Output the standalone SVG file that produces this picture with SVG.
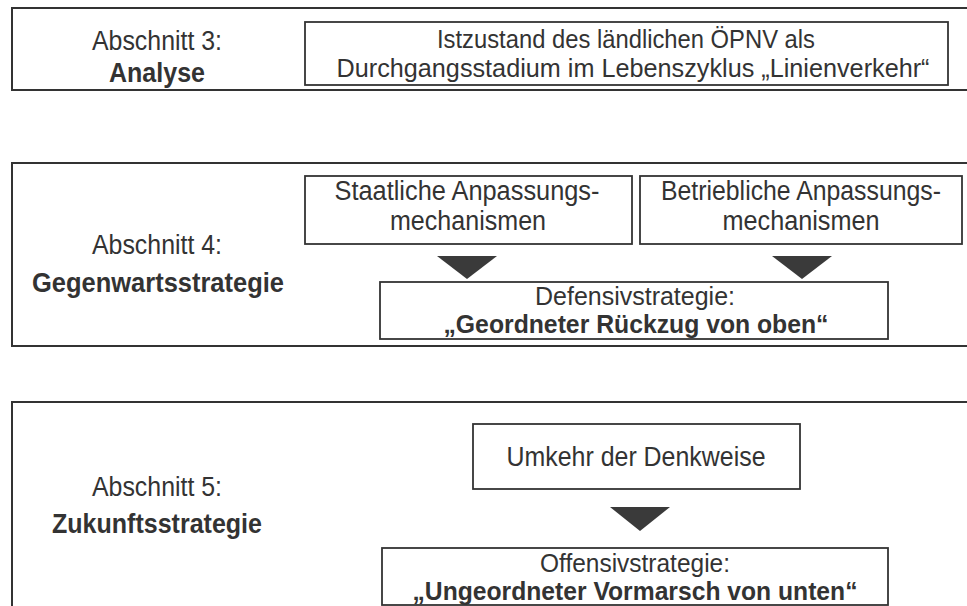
<svg xmlns="http://www.w3.org/2000/svg" width="967" height="606" viewBox="0 0 967 606">
<style>
  .frame { fill: none; stroke: #333; stroke-width: 2; }
  .box { fill: #fff; stroke: #333; stroke-width: 1.8; }
  .t { font-family: "Liberation Sans", Arial, sans-serif; font-size: 27px; fill: #333; text-anchor: middle; }
  .m { font-size: 26px; }
  .s { font-size: 25px; }
  .b { font-weight: bold; }
  .tri { fill: #3a3a3a; }
</style>
<rect width="967" height="606" fill="#fff"/>

<g id="section3">
  <path class="frame" d="M975,8 H12 V90 H975"/>
  <text class="t" x="157" y="50" textLength="130" lengthAdjust="spacingAndGlyphs">Abschnitt 3:</text>
  <text class="t b" x="157" y="82" textLength="96" lengthAdjust="spacingAndGlyphs">Analyse</text>
</g>
<g id="istzustand">
  <rect class="box" x="305" y="22" width="643" height="63"/>
  <text class="t m" x="626" y="48" textLength="378" lengthAdjust="spacingAndGlyphs">Istzustand des ländlichen ÖPNV als</text>
  <text class="t m" x="633" y="77" textLength="593" lengthAdjust="spacingAndGlyphs">Durchgangsstadium im Lebenszyklus „Linienverkehr“</text>
</g>

<g id="section4">
  <path class="frame" d="M975,163 H12 V346 H975"/>
  <text class="t" x="157" y="254" textLength="130" lengthAdjust="spacingAndGlyphs">Abschnitt 4:</text>
  <text class="t b" x="158" y="292" textLength="252" lengthAdjust="spacingAndGlyphs">Gegenwartsstrategie</text>
</g>
<g id="staatlich">
  <rect class="box" x="305" y="176" width="327" height="68"/>
  <text class="t" x="467" y="200" textLength="265" lengthAdjust="spacingAndGlyphs">Staatliche Anpassungs-</text>
  <text class="t" x="468" y="230" textLength="156" lengthAdjust="spacingAndGlyphs">mechanismen</text>
</g>
<g id="betrieblich">
  <rect class="box" x="640" y="176" width="322" height="68"/>
  <text class="t" x="801" y="200" textLength="280" lengthAdjust="spacingAndGlyphs">Betriebliche Anpassungs-</text>
  <text class="t" x="801" y="230" textLength="157" lengthAdjust="spacingAndGlyphs">mechanismen</text>
</g>
<g id="defensiv">
  <rect class="box" x="380" y="282" width="508" height="57"/>
  <text class="t s" x="635" y="305" textLength="200" lengthAdjust="spacingAndGlyphs">Defensivstrategie:</text>
  <text class="t s b" x="636" y="333" textLength="385" lengthAdjust="spacingAndGlyphs">„Geordneter Rückzug von oben“</text>
</g>

<g id="section5">
  <path class="frame" d="M975,402 H12 V610"/>
  <text class="t" x="157" y="496" textLength="130" lengthAdjust="spacingAndGlyphs">Abschnitt 5:</text>
  <text class="t b" x="157" y="533" textLength="210" lengthAdjust="spacingAndGlyphs">Zukunftsstrategie</text>
</g>
<g id="umkehr">
  <rect class="box" x="473" y="424" width="327" height="65"/>
  <text class="t" x="636" y="466" textLength="259" lengthAdjust="spacingAndGlyphs">Umkehr der Denkweise</text>
</g>
<g id="offensiv">
  <rect class="box" x="382" y="548" width="506" height="57"/>
  <text class="t s" x="635" y="572" textLength="190" lengthAdjust="spacingAndGlyphs">Offensivstrategie:</text>
  <text class="t s b" x="635" y="600" textLength="445" lengthAdjust="spacingAndGlyphs">„Ungeordneter Vormarsch von unten“</text>
</g>

<g id="connectors">
  <polygon class="tri" points="437,256 497,256 467,279"/>
  <polygon class="tri" points="772,256 832,256 802,279"/>
  <polygon class="tri" points="610,507 670,507 640,531"/>
</g>
</svg>
